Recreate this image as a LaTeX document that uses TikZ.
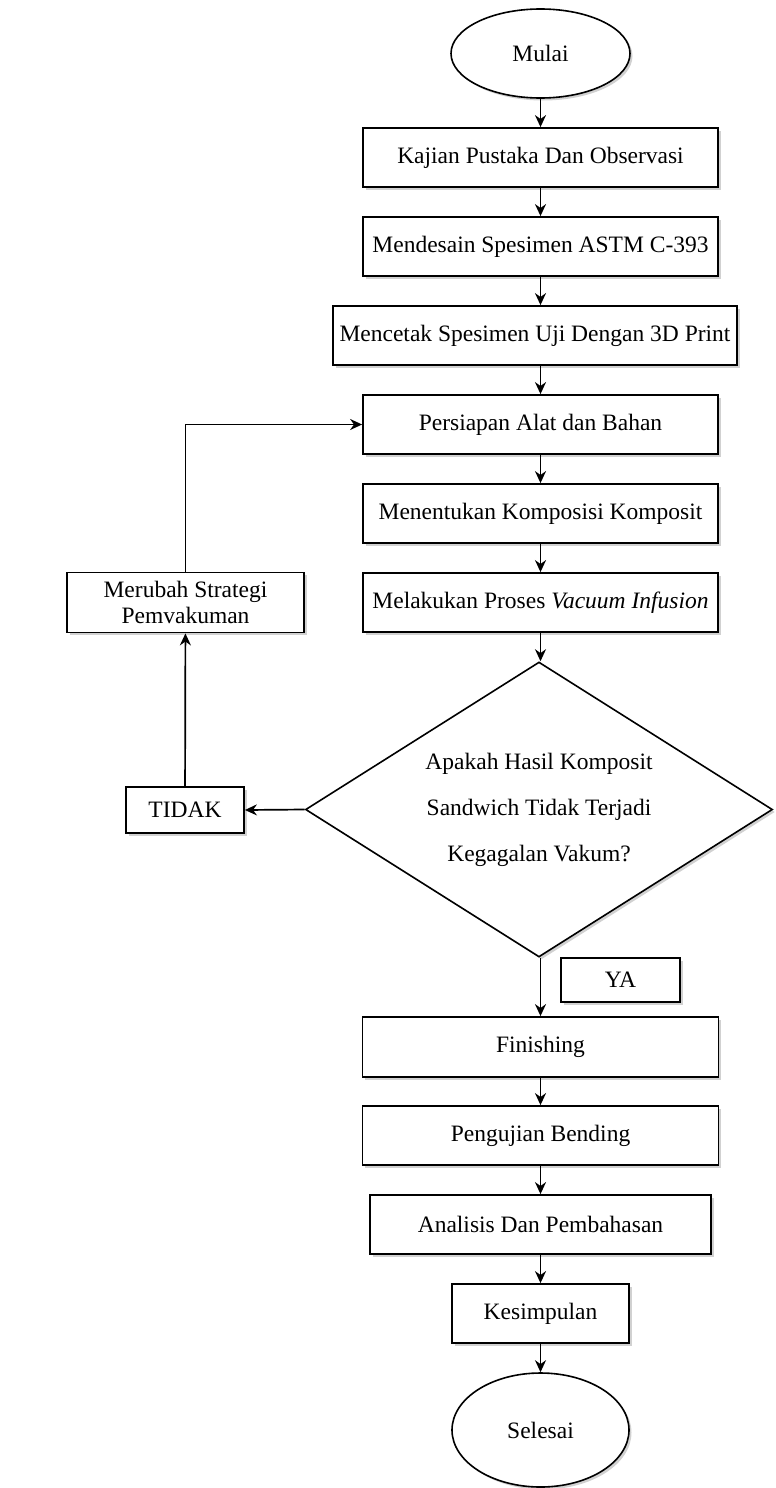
\documentclass[tikz,border=0pt]{standalone}
\usepackage{fontspec}
\setmainfont{Liberation Serif}
\usetikzlibrary{shapes.geometric,arrows.meta,shadows}
\begin{document}
\begin{tikzpicture}[x=1pt,y=-1pt,
  every node/.style={font=\fontsize{23.5}{26}\selectfont, inner sep=0pt},
  shad/.style={drop shadow={shadow xshift=2.5pt,shadow yshift=-2.5pt,fill=black!40,opacity=0.45}},
  proc/.style={draw, line width=1.8pt, fill=white, shad, minimum height=59pt, align=center},
  term/.style={draw, ellipse, line width=1.6pt, fill=white, shad},
  deci/.style={draw, diamond, aspect=1.58, line width=1.6pt, fill=white, shad, minimum width=467pt, minimum height=295pt, align=center},
  arr/.style={line width=1.7pt, -{Stealth[length=12pt,width=11pt]}}
]
\useasboundingbox (0,0) rectangle (776,1488);
\node[term, minimum width=179pt, minimum height=89pt] (mulai) at (540.5,53.5) {Mulai};
\node[proc, minimum width=355pt] (kajian) at (540.5,157.5) {Kajian Pustaka Dan Observasi};
\node[proc, minimum width=355pt] (desain) at (540.5,246.5) {Mendesain Spesimen ASTM C-393};
\node[proc, minimum width=404pt] (cetak) at (535,335.5) {Mencetak Spesimen Uji Dengan 3D Print};
\node[proc, minimum width=355pt] (siap) at (540.5,424.5) {Persiapan Alat dan Bahan};
\node[proc, minimum width=355pt] (tentu) at (540.5,513.5) {Menentukan Komposisi Komposit};
\node[proc, minimum width=355pt] (vakum) at (540.5,602.5) {Melakukan Proses \textit{Vacuum Infusion}};
\node[proc, minimum width=237pt, minimum height=60pt] (ubah) at (185.5,602.5) {Merubah Strategi\\Pemvakuman};
\node[proc, minimum width=118pt, minimum height=46pt] (tidak) at (185,810) {TIDAK};
\node[deci] (dec) at (539,809.5) {Apakah Hasil Komposit\\[20pt]Sandwich Tidak Terjadi\\[20pt]Kegagalan Vakum?};
\node[proc, minimum width=119pt, minimum height=44pt] (ya) at (620.5,980) {YA};
\node[proc, minimum width=356pt, minimum height=60pt] (finish) at (540.5,1047) {Finishing};
\node[proc, minimum width=356pt] (uji) at (540.5,1135.5) {Pengujian Bending};
\node[proc, minimum width=341pt] (analisis) at (540.5,1224.5) {Analisis Dan Pembahasan};
\node[proc, minimum width=177pt] (simpul) at (540.5,1313.5) {Kesimpulan};
\node[term, minimum width=177pt, minimum height=114pt] (selesai) at (540.5,1430) {Selesai};

\draw[arr] (mulai) -- (kajian);
\draw[arr] (kajian) -- (desain);
\draw[arr] (desain.south) -- (desain.south |- cetak.north);
\draw[arr] (desain.south |- cetak.south) -- (siap.north);
\draw[arr] (siap) -- (tentu);
\draw[arr] (tentu) -- (vakum);
\draw[arr] (vakum.south) -- (vakum.south |- dec.north);
\draw[arr] (dec.west) -- (tidak.east);
\draw[arr] (tidak) -- (ubah);
\draw[arr] (ubah.north) |- (siap.west);
\draw[arr] (vakum.south |- dec.south) -- (finish.north);
\draw[arr] (finish) -- (uji);
\draw[arr] (uji) -- (analisis);
\draw[arr] (analisis) -- (simpul);
\draw[arr] (simpul) -- (selesai);
\end{tikzpicture}
\end{document}
